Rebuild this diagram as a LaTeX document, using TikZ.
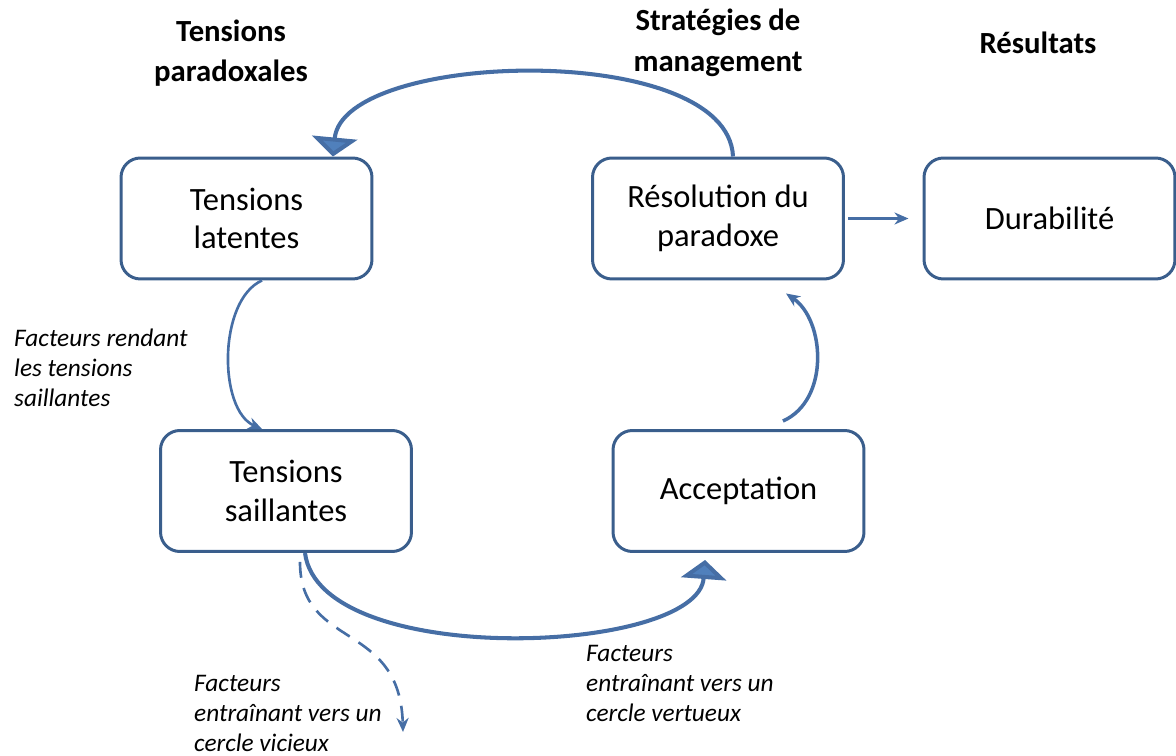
\documentclass[tikz,border=0pt]{standalone}
\usepackage{fontspec}
\setmainfont{Carlito}
\usepackage{tikz}
\usetikzlibrary{arrows.meta}

\definecolor{boxblue}{RGB}{58,94,140}
\definecolor{arrowblue}{RGB}{70,110,165}
\definecolor{headblue}{RGB}{80,128,188}

\tikzset{
  box/.style={shape=rectangle, draw=boxblue, line width=1.7pt, rounded corners=11pt,
    minimum width=5.02cm, minimum height=2.42cm, align=center, font=\fontsize{18.5}{22}\selectfont},
  header/.style={align=center, font=\fontsize{17.5}{23}\selectfont\bfseries},
  factor/.style={align=left, anchor=north west, font=\fontsize{14.4}{17}\selectfont\itshape},
  bigarc/.style={draw=arrowblue, line width=2.3pt, -{Triangle[width=0.9cm,length=0.38cm,fill=headblue]}},
  thinarc/.style={draw=arrowblue, line width=1.5pt, -{Stealth[length=0.28cm,width=0.24cm]}}
}

\begin{document}
\begin{tikzpicture}[x=0.02cm, y=-0.02cm]
\useasboundingbox (0,0) rectangle (1176,756);

% the five boxes
\node[box] (lat) at (246.5,218.5) {Tensions\\latentes};
\node[box] (res) at (718,218.5) {Résolution du\\paradoxe};
\node[box] (dur) at (1049.5,218.5) {Durabilité};
\node[box] (sail) at (286,491) {Tensions\\saillantes};
\node[box] (acc) at (738.5,491) {Acceptation};

% column titles
\node[header] (h1) at (231,53) {Tensions\\paradoxales};
\node[header] (h2) at (718,43) {Stratégies de\\management};
\node[header] (h3) at (1038,43) {Résultats};

% factors
\node[factor] (f1) at (8,323) {Facteurs rendant\\les tensions\\saillantes};
\node[factor] (f2) at (188,669) {Facteurs\\entraînant vers un\\cercle vicieux};
\node[factor] (f3) at (580,639) {Facteurs\\entraînant vers un\\cercle vertueux};

\coordinate (vic) at (403,732);

% connectors
\draw[bigarc] ([xshift=0.3cm]res.north) .. controls (728,40) and (343,50) .. ([xshift=1.73cm]lat.north);
\draw[thinarc] ([xshift=0.31cm]lat.south) .. controls (218,300) and (218,410) .. ([xshift=-0.48cm]sail.north);
\draw[bigarc] ([xshift=0.38cm]sail.south) .. controls (320,670) and (698,655) .. ([xshift=-0.67cm,yshift=-0.14cm]acc.south);
\draw[thinarc, line width=2pt] ([xshift=0.89cm,yshift=0.16cm]acc.north) .. controls (830,400) and (825,320) .. ([xshift=1.36cm,yshift=-0.26cm]res.south);
\draw[thinarc, dashed, dash pattern=on 9pt off 6pt] ([xshift=0.28cm,yshift=-0.18cm]sail.south) .. controls (300,650) and (400,620) .. (vic);
\draw[thinarc, shorten <=2pt, shorten >=8pt] (res.east) -- (dur.west);
\end{tikzpicture}
\end{document}
